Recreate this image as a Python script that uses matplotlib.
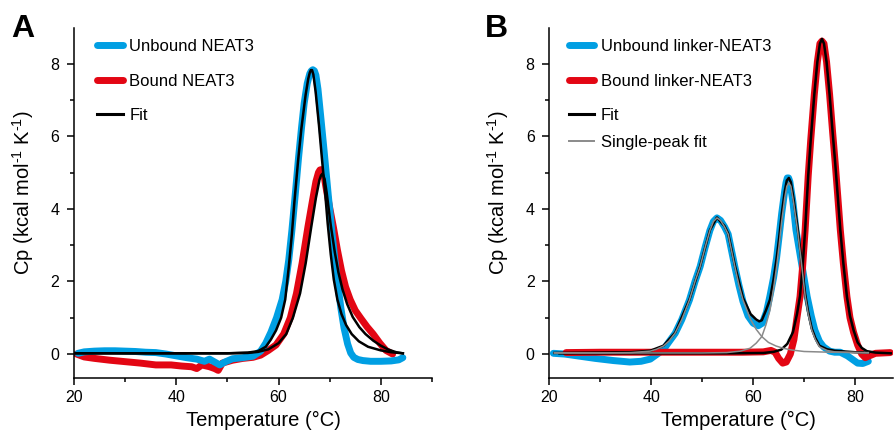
import matplotlib
matplotlib.use("Agg")
import matplotlib.pyplot as plt
from matplotlib.lines import Line2D
from matplotlib.ticker import MultipleLocator

plt.rcParams['font.family'] = ['Liberation Sans', 'DejaVu Sans']
plt.rcParams['mathtext.fontset'] = 'custom'
plt.rcParams['mathtext.rm'] = 'Liberation Sans'
plt.rcParams['mathtext.it'] = 'Liberation Sans:italic'
plt.rcParams['mathtext.default'] = 'regular'

BLUE = '#009FE3'
RED = '#E30613'
GRAY = '#8A8A8A'

# ---------------- Panel A data ----------------
a_unbound_T = [20.8, 22, 24, 26, 28, 30, 32, 34, 36, 38, 40, 42, 44, 45.5, 46.5, 47.5, 48.5, 49.5, 51, 53, 55,
               56.5, 57.5, 58.5, 59.6, 60.7, 61.4, 62.0, 62.6, 63.2, 63.9, 64.5, 65.0, 65.6, 66.1, 66.4, 66.7,
               67.0, 67.3, 67.7, 68.2, 68.9, 69.7, 70.4, 71.0, 71.6, 72.2, 72.8, 73.5, 74.1, 74.7, 75.5, 76.5,
               78, 80, 82, 83.5, 84.3]
a_unbound_Cp = [0.02, 0.06, 0.08, 0.09, 0.09, 0.08, 0.07, 0.05, 0.04, 0.0, -0.05, -0.1, -0.14, -0.2, -0.14, -0.22,
                -0.3, -0.22, -0.13, -0.1, -0.06,
                0.08, 0.3, 0.6, 1.0, 1.5, 2.0, 2.6, 3.4, 4.3, 5.4, 6.25, 6.9, 7.45, 7.72, 7.8, 7.83,
                7.8, 7.68, 7.3, 6.6, 5.6, 4.4, 3.4, 2.6, 1.9, 1.25, 0.72, 0.28, 0.03, -0.09, -0.15, -0.18,
                -0.2, -0.2, -0.19, -0.16, -0.1]

a_bound_T = [20.5, 22, 24, 27, 30, 33, 36, 39, 41, 43, 44, 45, 46.5, 47.5, 48.2, 49, 51, 53, 55, 56.5, 58, 59.5,
             61.0, 62.3, 63.5, 64.6, 65.75, 66.6, 67.3, 67.8, 68.1, 68.4, 68.8, 69.2, 69.9, 70.7, 71.5, 72.3,
             73.1, 74.0, 75.0, 76.1, 77.3, 78.5, 79.8, 81.0, 82.3]
a_bound_Cp = [0.0, -0.08, -0.12, -0.17, -0.21, -0.25, -0.3, -0.3, -0.33, -0.35, -0.4, -0.3, -0.35, -0.4, -0.45,
              -0.25, -0.17, -0.12, -0.09, -0.03, 0.1, 0.25,
              0.55, 1.0, 1.67, 2.5, 3.51, 4.2, 4.75, 5.0, 5.07, 5.08, 5.0, 4.65, 4.1, 3.51, 2.87, 2.3,
              1.85, 1.5, 1.2, 0.98, 0.75, 0.55, 0.3, 0.1, 0.0]

a_fit_unbound_T = [20.3, 30, 40, 50, 54, 56, 57.5, 58.5, 59.5, 60.5, 61.3, 62.0, 62.6, 63.1, 63.8, 64.45, 65.3,
                   65.8, 66.1, 66.3, 66.55, 66.8, 67.25, 67.9, 68.5, 69.1, 69.6, 70.2, 70.8, 71.5, 72.3, 73.2,
                   74.3, 75.7, 77.5, 80, 82, 84.3]
a_fit_unbound_Cp = [0.02, 0.02, 0.02, 0.02, 0.04, 0.08, 0.2, 0.4, 0.65, 1.0, 1.5, 2.4, 3.3, 4.2, 5.3, 6.2,
                    7.15, 7.58, 7.75, 7.82, 7.82, 7.7, 7.22, 6.3, 5.35, 4.45, 3.6, 2.75, 2.05, 1.5, 1.1, 0.8,
                    0.55, 0.35, 0.2, 0.1, 0.05, 0.02]

a_fit_bound_T = [20.3, 30, 40, 50, 54, 56, 58, 60, 61.5, 62.8, 64.2, 65.3, 66.4, 67.3, 68.0, 68.3, 68.6, 69.0,
                 69.4, 70.2, 71.0, 71.7, 72.5, 73.4, 74.5, 75.8, 77.0, 78.5, 80.0, 81.5, 83.0, 84.3]
a_fit_bound_Cp = [0.02, 0.02, 0.02, 0.02, 0.03, 0.06, 0.13, 0.3, 0.55, 1.0, 1.67, 2.5, 3.51, 4.3, 4.8, 4.92,
                  4.97, 4.82, 4.45, 3.55, 2.8, 2.25, 1.78, 1.38, 1.02, 0.74, 0.55, 0.37, 0.23, 0.12, 0.05, 0.02]

# ---------------- Panel B data ----------------
b_unbound_T = [20.8, 23, 26, 29, 32.6, 35.8, 38, 39.8, 41, 42.4, 43.3, 44.7, 46, 47.5, 48.6, 49.6, 50.6, 51.5,
               52.2, 52.9, 53.6, 54.4, 55.1, 56.4, 57.2, 58.0, 59.0, 60.0, 61.0, 61.8, 62.6, 63.3, 64.0, 64.6,
               65.1, 65.6, 66.2, 66.45, 66.7, 66.95, 67.2, 67.8, 68.4, 69.5, 70.6, 71.4, 72.1, 73.0, 73.8,
               75.0, 76.0, 77.1, 78.5, 79.5, 80.5, 81.5, 82.6]
b_unbound_Cp = [0.02, 0.0, -0.06, -0.12, -0.18, -0.22, -0.2, -0.14, -0.02, 0.12, 0.3, 0.57, 0.95, 1.49, 2.0,
                2.41, 2.95, 3.4, 3.65, 3.75, 3.68, 3.5, 3.3, 2.41, 1.9, 1.45, 1.05, 0.85, 0.78, 0.85, 1.15, 1.6,
                2.1, 2.65, 3.25, 3.87, 4.5, 4.72, 4.85, 4.85, 4.75, 4.2, 3.42, 2.5, 1.58, 1.05, 0.66, 0.35, 0.2,
                0.08, 0.05, 0.05, -0.05, -0.15, -0.25, -0.26, -0.2]

b_bound_T = [23.3, 30, 40, 50, 58, 62, 63.5, 64.3, 65.0, 65.8, 66.5, 67.3, 68.0, 68.6, 69.2, 69.7, 70.2, 70.8,
             71.3, 72.0, 72.6, 73.1, 73.5, 73.9, 74.4, 75.0, 75.6, 76.1, 76.6, 77.1, 77.7, 78.4, 79.0, 79.7,
             80.5, 81.3, 82.0, 82.8, 84, 86.9]
b_bound_Cp = [0.04, 0.05, 0.05, 0.05, 0.05, 0.06, 0.1, 0.05, -0.12, -0.25, -0.22, 0.0, 0.4, 1.0, 1.58, 2.4,
              3.42, 4.9, 5.9, 7.15, 8.05, 8.55, 8.62, 8.55, 8.05, 7.15, 6.1, 5.26, 4.35, 3.42, 2.5, 1.58, 1.0,
              0.6, 0.25, 0.0, -0.1, -0.05, 0.02, 0.04]

b_fit_unbound_T = [21, 36, 39.8, 42.4, 44.7, 47.5, 49.6, 51.5, 52.9, 54.4, 55.1, 56.4, 58.0, 59.5, 60.6, 61.2,
                   61.7, 62.5, 63.3, 64.0, 64.6, 65.1, 65.6, 66.2, 66.6, 67.0, 67.4, 67.9, 68.7, 69.4, 70.2,
                   70.8, 71.5, 72.2, 73.0, 74.5, 76, 80, 82.6]
b_fit_unbound_Cp = [0.03, 0.05, 0.09, 0.23, 0.59, 1.5, 2.42, 3.41, 3.76, 3.52, 3.32, 2.45, 1.55, 1.1, 0.95, 0.9,
                    0.93, 1.2, 1.5, 2.05, 2.63, 3.2, 3.85, 4.48, 4.78, 4.85, 4.73, 4.3, 3.5, 2.67, 1.66, 1.15,
                    0.7, 0.44, 0.23, 0.13, 0.09, 0.05, 0.04]

b_fit_bound_T = [22, 55, 62, 64, 65.5, 66.7, 67.8, 68.6, 69.2, 69.7, 70.2, 70.8, 71.3, 72.0, 72.6, 73.1, 73.5,
                 73.9, 74.4, 75.0, 75.6, 76.1, 76.6, 77.1, 77.7, 78.4, 79.0, 79.7, 80.5, 81.3, 82.3, 84, 87]
b_fit_bound_Cp = [0.02, 0.02, 0.03, 0.06, 0.12, 0.28, 0.6, 1.1, 1.6, 2.4, 3.42, 4.9, 5.9, 7.15, 8.05, 8.55,
                  8.68, 8.55, 8.05, 7.15, 6.1, 5.26, 4.35, 3.42, 2.5, 1.58, 1.05, 0.66, 0.32, 0.17, 0.08, 0.04,
                  0.02]

b_peak1_T = [21, 30, 36, 39.8, 41, 42.4, 43.5, 44.7, 46, 47.5, 48.6, 49.6, 50.6, 51.5, 52.2, 52.9, 53.6, 54.4,
             55.1, 56.4, 57.2, 58.0, 59.5, 60.6, 61.7, 63, 64.5, 65.9, 67.6, 70, 75, 82.6]
b_peak1_Cp = [0.03, 0.03, 0.04, 0.08, 0.13, 0.22, 0.36, 0.58, 0.95, 1.49, 2.0, 2.41, 2.95, 3.4, 3.65, 3.75,
              3.68, 3.5, 3.3, 2.41, 1.9, 1.49, 0.95, 0.68, 0.48, 0.32, 0.22, 0.16, 0.11, 0.07, 0.05, 0.04]

b_peak2_T = [21, 50, 54.8, 57.5, 59.4, 60.6, 61.7, 62.5, 63.3, 64.0, 64.6, 65.1, 65.6, 66.2, 66.6, 67.0, 67.4,
             67.9, 68.7, 69.4, 70.2, 70.8, 71.5, 72.2, 73.0, 74.5, 76, 80, 82.6]
b_peak2_Cp = [0.03, 0.03, 0.04, 0.08, 0.16, 0.3, 0.48, 0.8, 1.21, 1.8, 2.41, 3.0, 3.65, 4.3, 4.62, 4.72, 4.62,
              4.2, 3.42, 2.6, 1.6, 1.1, 0.66, 0.4, 0.2, 0.1, 0.06, 0.04, 0.03]

labels_A = ['Unbound NEAT3', 'Bound NEAT3', 'Fit']
labels_B = ['Unbound linker-NEAT3', 'Bound linker-NEAT3', 'Fit', 'Single-peak fit']

x_ticks = [20, 40, 60, 80]
y_ticks = [0, 2, 4, 6, 8]

DATA_LW = 5.0
FIT_LW = 1.8
SP_LW = 1.1

fig = plt.figure(figsize=(8.94, 4.33), dpi=100)
axA = fig.add_axes([74 / 894, 1 - 378 / 433, 358 / 894, 350 / 433])
axB = fig.add_axes([549.3 / 894, 1 - 378 / 433, 344 / 894, 350 / 433])

YLABEL = 'Cp (kcal mol$^{\u20101}$ K$^{\u20101}$)'


def style(ax, xmax):
    ax.set_xlim(20, xmax)
    ax.set_ylim(-0.66, 8.98)
    for s in ['top', 'right']:
        ax.spines[s].set_visible(False)
    for s in ['left', 'bottom']:
        ax.spines[s].set_linewidth(1.1)
    ax.set_xticks(x_ticks)
    ax.set_yticks(y_ticks)
    ax.xaxis.set_minor_locator(MultipleLocator(10))
    ax.yaxis.set_minor_locator(MultipleLocator(1))
    ax.tick_params(which='major', direction='out', length=5, width=1.1, labelsize=11.5)
    ax.tick_params(axis='x', which='major', pad=4)
    ax.tick_params(axis='y', which='major', pad=5.5)
    ax.tick_params(which='minor', direction='out', length=3, width=1.1)
    ax.set_xlabel('Temperature (°C)', fontsize=14.5)
    ax.set_ylabel(YLABEL, fontsize=14.5)


style(axA, 90)
style(axB, 87.5)

rnd = dict(solid_capstyle='round', solid_joinstyle='round')

# Panel A
axA.plot(a_bound_T, a_bound_Cp, color=RED, lw=DATA_LW, **rnd, zorder=2)
axA.plot(a_unbound_T, a_unbound_Cp, color=BLUE, lw=DATA_LW, **rnd, zorder=3)
axA.plot(a_fit_unbound_T, a_fit_unbound_Cp, color='black', lw=FIT_LW, zorder=4)
axA.plot(a_fit_bound_T, a_fit_bound_Cp, color='black', lw=FIT_LW, zorder=4)

# Panel B
axB.plot(b_unbound_T, b_unbound_Cp, color=BLUE, lw=DATA_LW, **rnd, zorder=2)
axB.plot(b_bound_T, b_bound_Cp, color=RED, lw=DATA_LW, **rnd, zorder=3)
axB.plot(b_fit_bound_T, b_fit_bound_Cp, color='black', lw=FIT_LW, zorder=4)
axB.plot(b_fit_unbound_T, b_fit_unbound_Cp, color='black', lw=FIT_LW, zorder=4)
axB.plot(b_peak1_T, b_peak1_Cp, color=GRAY, lw=SP_LW, zorder=5)
axB.plot(b_peak2_T, b_peak2_Cp, color=GRAY, lw=SP_LW, zorder=5)

h_unb = Line2D([], [], color=BLUE, lw=5, solid_capstyle='round')
h_bnd = Line2D([], [], color=RED, lw=5, solid_capstyle='round')
h_fit = Line2D([], [], color='black', lw=2.2)
h_sp = Line2D([], [], color=GRAY, lw=1.4)

leg_kw = dict(frameon=False, borderpad=0, borderaxespad=0, fontsize=12, handlelength=1.55,
              handletextpad=0.4, labelspacing=1.18, loc='upper left')
axA.legend([h_unb, h_bnd, h_fit], labels_A, bbox_to_anchor=(0.064, 0.969), **leg_kw)
legB = axB.legend([h_unb, h_bnd, h_fit], labels_B[:3], bbox_to_anchor=(0.056, 0.969), **leg_kw)
axB.add_artist(legB)
axB.legend([h_sp], labels_B[3:], bbox_to_anchor=(0.056, 0.694), **leg_kw)

axA.xaxis.set_label_coords(0.529, -0.095)
axB.xaxis.set_label_coords(0.551, -0.095)
axA.yaxis.set_label_coords(-0.106, 0.53)
axB.yaxis.set_label_coords(-0.11, 0.53)

fig.text(11 / 894, 1 - 37 / 433, 'A', fontsize=23, fontweight='bold', va='baseline', ha='left')
fig.text(485 / 894, 1 - 37 / 433, 'B', fontsize=23, fontweight='bold', va='baseline', ha='left')

fig.savefig('out.png', dpi=100)
